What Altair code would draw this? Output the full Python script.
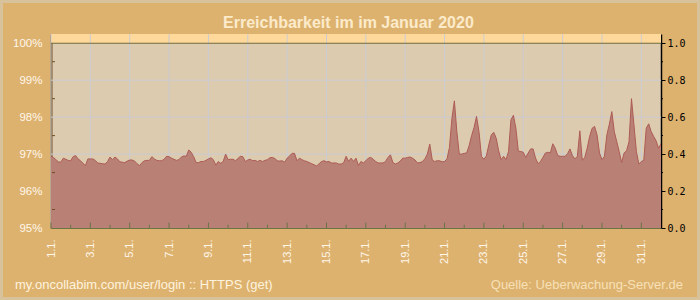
import altair as alt
import pandas as pd

# Availability in percent, one value every 3 hours (8 per day), Jan 1 - Feb 1
week1 = [
    96.94, 96.91, 96.85, 96.79, 96.78, 96.89, 96.86, 96.83,
    96.82, 96.93, 96.96, 96.87, 96.82, 96.75, 96.69, 96.87,
    96.87, 96.87, 96.83, 96.76, 96.75, 96.74, 96.73, 96.80,
    96.92, 96.85, 96.92, 96.87, 96.79, 96.78, 96.77, 96.81,
    96.84, 96.84, 96.81, 96.74, 96.69, 96.77, 96.82, 96.83,
    96.83, 96.93, 96.87, 96.83, 96.82, 96.82, 96.86, 96.94,
    96.93, 96.89, 96.86, 96.83, 96.85, 96.92, 96.95, 96.94,
]
week2 = [
    97.11, 97.05, 96.93, 96.77, 96.77, 96.80, 96.80, 96.83,
    96.87, 96.90, 96.85, 96.70, 96.80, 96.75, 96.80, 97.00,
    96.85, 96.86, 96.86, 96.82, 96.88, 96.94, 96.93, 96.80,
    96.84, 96.86, 96.82, 96.83, 96.80, 96.83, 96.80, 96.83,
    96.85, 96.90, 96.91, 96.88, 96.82, 96.81, 96.82, 96.78,
    96.89, 96.95, 97.02, 97.02, 96.82, 96.89, 96.85, 96.82,
    96.80, 96.77, 96.74, 96.71, 96.68, 96.74, 96.80, 96.82,
]
week3 = [
    96.79, 96.80, 96.76, 96.76, 96.76, 96.73, 96.73, 96.77,
    96.94, 96.80, 96.89, 96.80, 96.89, 96.69, 96.80, 96.76,
    96.82, 96.89, 96.91, 96.86, 96.80, 96.76, 96.76, 96.76,
    96.80, 96.91, 96.98, 96.77, 96.73, 96.76, 96.81, 96.89,
    96.89, 96.91, 96.92, 96.89, 96.84, 96.76, 96.77, 96.80,
    96.87, 97.00, 97.27, 96.84, 96.80, 96.82, 96.82, 96.79,
    96.80, 96.87, 97.18, 97.97, 98.44, 97.61, 97.00, 97.00,
]
week4 = [
    97.02, 97.03, 97.23, 97.50, 97.72, 98.02, 97.61, 96.94,
    96.86, 96.95, 97.25, 97.52, 97.59, 97.43, 97.09, 96.85,
    96.94, 96.85, 97.07, 97.93, 98.05, 97.70, 97.08, 97.07,
    97.05, 96.91, 97.03, 97.14, 97.14, 96.89, 96.74, 96.80,
    96.91, 97.03, 97.05, 97.03, 97.28, 97.16, 96.96, 96.94,
    96.94, 96.94, 97.01, 97.14, 96.96, 96.87, 96.94, 97.63,
    96.83, 96.91, 97.16, 97.48, 97.70, 97.75, 97.52, 97.03,
]
week5 = [
    96.85, 96.94, 97.52, 97.81, 98.15, 97.61, 97.34, 97.07,
    96.77, 97.03, 97.09, 97.34, 98.50, 97.79, 97.07, 96.73,
    96.80, 96.83, 97.70, 97.82, 97.61, 97.48, 97.36, 97.16,
    97.28,
]

label_days = list(range(1, 32, 2))
other_days = list(range(2, 32, 2))
pct_ticks = [95, 96, 97, 98, 99, 100]
pct_grid = [96, 97, 98, 99]
pct_minor = [95.5, 96.5, 97.5, 98.5, 99.5]
right_major = [0.0, 0.2, 0.4, 0.6, 0.8, 1.0]
right_minor = [0.1, 0.3, 0.5, 0.7, 0.9]

title_text = "Erreichbarkeit im im Januar 2020"
footer_left = "my.oncollabim.com/user/login :: HTTPS (get)"
footer_right = "Quelle: Ueberwachung-Server.de"

values = week1 + week2 + week3 + week4 + week5
df = pd.DataFrame({"day": [1 + i / 8 for i in range(len(values))], "pct": values})

W, H = 610, 194
xs = alt.Scale(domain=[1, 32], nice=False, zero=False)
ys = alt.Scale(domain=[95, 100.25], nice=False, zero=False)
rs = alt.Scale(domain=[0, 1.05], nice=False, zero=False)

LABEL = "#FFF6EA"
FONT = "Liberation Sans"

x_axis = alt.Axis(
    values=label_days, labelExpr="datum.value + '.1.'", labelAngle=270,
    ticks=False, grid=False, domainColor="#6B7445", domainWidth=1,
    labelColor=LABEL, labelFont=FONT, labelFontSize=11, labelPadding=11,
    labelOverlap=False, labelBound=False, title=None)
y_axis = alt.Axis(
    values=pct_ticks, labelExpr="datum.value + '%'", ticks=False, grid=False,
    domainColor="#6E5023", domainWidth=2, labelColor=LABEL, labelFont=FONT,
    labelFontSize=11.5, labelPadding=9, labelOverlap=False, labelBound=False,
    labelFlush=False, title=None)


def X(field):
    return alt.X(field, type="quantitative", scale=xs, axis=x_axis, title=None)


def Y(field):
    return alt.Y(field, type="quantitative", scale=ys, axis=y_axis, title=None)


band = alt.Chart(pd.DataFrame({"day": [1], "day2": [32], "pct": [100], "pct2": [100.25]})).mark_rect(
    color="#FFD99B"
).encode(x=X("day"), x2="day2", y=Y("pct"), y2="pct2")

vgrid = alt.Chart(pd.DataFrame({"day": label_days})).mark_rule(
    color="#CBCBD2", strokeWidth=1).encode(x=X("day"))
hgrid = alt.Chart(pd.DataFrame({"pct": pct_grid})).mark_rule(
    color="#CBCBD2", strokeWidth=1).encode(y=Y("pct"))

area = alt.Chart(df).mark_area(
    color="#B98176", opacity=1, line={"color": "#AD5B55", "strokeWidth": 1}, clip=True
).encode(x=X("day"), y=Y("pct"), y2=alt.datum(95))

top_rule = alt.Chart(pd.DataFrame({"pct": [100]})).mark_rule(
    color="#6E6C3C", strokeWidth=1).encode(y=Y("pct"))

left_minor = alt.Chart(pd.DataFrame({"pct": pct_minor})).mark_tick(
    orient="horizontal", color="#6E5023", size=3, thickness=1, opacity=1
).encode(y=Y("pct"), x=alt.value(2.5))

ticks_long = alt.Chart(pd.DataFrame({"day": label_days})).mark_tick(
    orient="vertical", color="#6B7445", size=5.5, thickness=1, opacity=1
).encode(x=X("day"), y=alt.value(H - 2.75))

ticks_short = alt.Chart(pd.DataFrame({"day": other_days})).mark_tick(
    orient="vertical", color="#6B7445", size=3.3, thickness=1, opacity=1
).encode(x=X("day"), y=alt.value(H - 1.65))

foot_l = alt.Chart(pd.DataFrame({"t": [footer_left]})).mark_text(
    align="left", baseline="alphabetic", font=FONT, fontSize=13, color="#FFF3DE"
).encode(text="t:N", x=alt.value(-36), y=alt.value(255))

foot_r = alt.Chart(pd.DataFrame({"t": [footer_right]})).mark_text(
    align="right", baseline="alphabetic", font=FONT, fontSize=13, color="#F7E0B6"
).encode(text="t:N", x=alt.value(632), y=alt.value(255))

title_mark = alt.Chart(pd.DataFrame({"t": [title_text]})).mark_text(
    align="center", baseline="alphabetic", font=FONT, fontSize=16, fontWeight="bold", color="#FCEBCB"
).encode(text="t:N", x=alt.value(297.4), y=alt.value(-6))

border = alt.Chart(pd.DataFrame({"a": [0]})).mark_rect(
    fill=None, stroke="#D8C29C", strokeWidth=3
).encode(x=alt.value(-49.5), x2=alt.value(647.5), y=alt.value(-32.5), y2=alt.value(264.5))

left_group = alt.layer(band, vgrid, hgrid, area, top_rule, left_minor, ticks_long, ticks_short,
                       foot_l, foot_r, title_mark, border)

right_layer = alt.Chart(pd.DataFrame({"r": right_minor})).mark_tick(
    orient="horizontal", color="black", size=2, thickness=1, opacity=1
).encode(
    y=alt.Y("r:Q", scale=rs, axis=alt.Axis(
        orient="right", values=right_major, format=".1f", tickSize=4, tickColor="black",
        domainColor="black", domainWidth=1.5, labelColor="black", labelFont="DejaVu Sans Mono",
        labelFontSize=10, labelPadding=2, grid=False, labelOverlap=False, labelBound=False,
        title=None)),
    x=alt.value(W + 1),
)

chart = alt.layer(left_group, right_layer).resolve_scale(y="independent").properties(
    width=W, height=H,
    autosize=alt.AutoSizeParams(type="none"),
    padding={"left": 51, "top": 34, "right": 39, "bottom": 72},
    background="#DDB26F",
).configure_view(fill="#DCCBAF", stroke=None)

chart.save("out.html", embed_options={"renderer": "svg", "actions": False})
